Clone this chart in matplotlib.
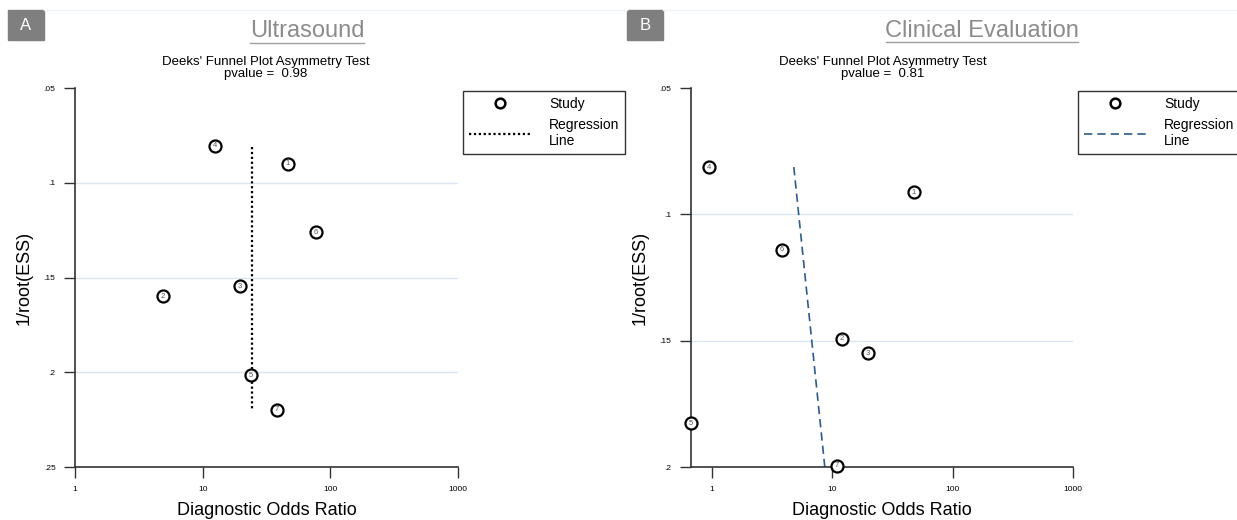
import numpy as np
import matplotlib.pyplot as plt
from matplotlib.lines import Line2D

# Panel A - Ultrasound
us_study = ['4', '1', '6', '2', '3', '5', '7']
us_dor = [12.5, 46.5, 77, 4.9, 19.6, 23.9, 38.2]
us_ess = [0.0806, 0.0901, 0.126, 0.1598, 0.1545, 0.2015, 0.2199]
us_reg_x = [24.4, 24.4]
us_reg_y = [0.081, 0.220]
us_p = '0.98'

# Panel B - Clinical evaluation
ce_study = ['4', '1', '6', '2', '3', '5', '7']
ce_dor = [0.95, 47.6, 3.83, 12.0, 19.8, 0.67, 10.9]
ce_ess = [0.0813, 0.0912, 0.1141, 0.1493, 0.1549, 0.1826, 0.1996]
ce_reg_x = [4.81, 8.7]
ce_reg_y = [0.0813, 0.2]
ce_p = '0.81'

W, H = 1237, 520
fig = plt.figure(figsize=(W / 100, H / 100), dpi=100)
plt.rcParams['font.family'] = ['Liberation Sans', 'DejaVu Sans']


def fx(px):
    return px / W


def fy(py):
    return 1 - py / H


def panel(rect, xs, ys, labels, regx, regy, pval, xlim, ylim, yticks, ylabels,
          reg_style, leg_anchor, letter, letter_x, title, title_x, center_x):
    ax = fig.add_axes(rect)
    ax.set_xscale('log')
    ax.set_xlim(*xlim)
    ax.set_ylim(*ylim)
    ax.set_yticks(yticks)
    ax.set_yticklabels(ylabels, fontsize=6)
    ax.set_xticks([1, 10, 100, 1000])
    ax.set_xticklabels(['1', '10', '100', '1000'], fontsize=6)
    ax.minorticks_off()
    ax.tick_params(direction='out', length=8, width=1, pad=6, color='#333333')
    for s in ['top', 'right']:
        ax.spines[s].set_visible(False)
    for s in ['left', 'bottom']:
        ax.spines[s].set_color('#333333')
        ax.spines[s].set_linewidth(1.2)
    for t in yticks[1:-1]:
        ax.axhline(t, color='#dbe6f0', lw=1, zorder=0)

    ax.plot(regx, regy, **reg_style, zorder=2)
    ax.scatter(xs, ys, s=75, facecolor='white', edgecolor='black', lw=1.6,
               zorder=3, clip_on=False)
    for x, y, lab in zip(xs, ys, labels):
        ax.text(x, y, lab, fontsize=5.5, ha='center', va='center', color='#555555', zorder=4)

    ax.set_ylabel('1/root(ESS)', fontsize=13, labelpad=8)
    ax.set_xlabel('Diagnostic Odds Ratio', fontsize=13, labelpad=6)

    h_study = Line2D([], [], marker='o', ls='none', mfc='white', mec='black',
                     mew=1.8, ms=7)
    h_reg = Line2D([], [], **reg_style)
    leg = ax.legend([h_study, h_reg], ['Study', 'Regression\nLine'], loc='upper left',
                    bbox_to_anchor=(fx(leg_anchor[0]), fy(leg_anchor[1])),
                    bbox_transform=fig.transFigure, fancybox=False, edgecolor='#333333',
                    fontsize=10, handlelength=4.5, labelspacing=0.55, borderpad=0.4,
                    handletextpad=1.3, framealpha=1, borderaxespad=0)
    leg.get_frame().set_linewidth(1)

    fig.text(fx(center_x), fy(68), "Deeks' Funnel Plot Asymmetry Test\npvalue =  " + pval,
             ha='center', va='center', fontsize=9.5, linespacing=0.9)

    # panel letter box
    fig.patches.append(plt.Rectangle((fx(letter_x), fy(40)), fx(36), 30 / H,
                                     transform=fig.transFigure, color='#7f7f7f'))
    fig.text(fx(letter_x + 18), fy(25), letter, color='white',
             ha='center', va='center', fontsize=12)
    fig.text(fx(title_x), fy(31), title, ha='center', va='center', fontsize=17,
             color='#8c8c8c')
    return ax


panel([fx(75), fy(467), fx(458 - 75), (467 - 88) / H], us_dor, us_ess, us_study,
      us_reg_x, us_reg_y, us_p, (1, 1000), (0.25, 0.05),
      [0.05, 0.1, 0.15, 0.2, 0.25], ['.05', '.1', '.15', '.2', '.25'],
      dict(color='black', ls=(0, (1, 1.2)), lw=1.6), (463, 91), 'A', 8,
      'Ultrasound', 307, 266)

panel([fx(691), fy(467), fx(1073 - 691), (467 - 88) / H], ce_dor, ce_ess, ce_study,
      ce_reg_x, ce_reg_y, ce_p, (0.674, 1000), (0.2, 0.05),
      [0.05, 0.1, 0.15, 0.2], ['.05', '.1', '.15', '.2'],
      dict(color='#2f5b8a', ls=(0, (5, 3)), lw=1.2), (1078, 91), 'B', 627,
      'Clinical Evaluation', 982, 883)

# title underlines and top rule
fig.add_artist(Line2D([fx(250), fx(364)], [fy(43), fy(43)], color='#a0a0a0', lw=1))
fig.add_artist(Line2D([fx(886), fx(1078)], [fy(42), fy(42)], color='#a0a0a0', lw=1))
fig.add_artist(Line2D([fx(44), fx(627)], [fy(10), fy(10)], color='#eef1f5', lw=1))
fig.add_artist(Line2D([fx(663), fx(1237)], [fy(10), fy(10)], color='#eef1f5', lw=1))

fig.savefig('out.png', dpi=100)
